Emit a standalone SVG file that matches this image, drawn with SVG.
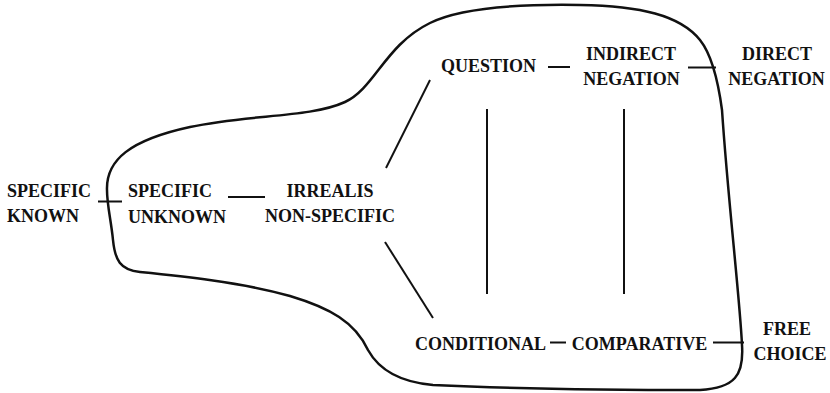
<svg xmlns="http://www.w3.org/2000/svg" width="830" height="393" viewBox="0 0 830 393">
<style>
  .lbl { font-family: "Liberation Serif", "Times New Roman", serif; font-weight: bold; font-size: 18px; fill: #111; }
  .mid { text-anchor: middle; }
  .edge { stroke: #111; stroke-width: 2; fill: none; stroke-linecap: butt; }
  .blob { stroke: #111; stroke-width: 2.5; fill: none; }
</style>
<rect width="830" height="393" fill="#fff"/>
<path id="boundary" class="blob" d="M 107,190 C 106,160 130,140 190,127 C 250,114 310,118 345,102 C 375,88 385,45 430,23 C 460,8 520,4 580,5 C 640,6 680,15 700,40 C 712,55 718,80 722,110 C 728,200 740,300 742,345 C 744,375 735,388 700,390 C 620,390 500,388 433,385 C 398,382 378,368 368,350 C 355,322 330,308 290,296 C 240,282 180,276 140,272 C 120,270 115,260 113,240 C 111,220 107,205 107,190 Z"/>
<g id="connectors">
  <line class="edge" x1="98" y1="201.5" x2="122" y2="201.5"/>
  <line class="edge" x1="228" y1="197" x2="265" y2="197"/>
  <line class="edge" x1="386" y1="168" x2="430" y2="80"/>
  <line class="edge" x1="385" y1="242" x2="433" y2="318"/>
  <line class="edge" x1="548" y1="67" x2="570" y2="67"/>
  <line class="edge" x1="688" y1="67.5" x2="716" y2="67.5"/>
  <line class="edge" x1="487" y1="109" x2="487" y2="294"/>
  <line class="edge" x1="624" y1="109" x2="624" y2="294"/>
  <line class="edge" x1="550" y1="342.5" x2="566" y2="342.5"/>
  <line class="edge" x1="713" y1="342.5" x2="744" y2="342.5"/>
</g>
<g id="specific-known"><text class="lbl" x="7" y="197">SPECIFIC</text><text class="lbl" x="7" y="222">KNOWN</text></g>
<g id="specific-unknown"><text class="lbl" x="128" y="197">SPECIFIC</text><text class="lbl" x="128" y="223">UNKNOWN</text></g>
<g id="irrealis"><text class="lbl mid" x="330" y="197">IRREALIS</text><text class="lbl mid" x="330" y="222">NON-SPECIFIC</text></g>
<g id="question"><text class="lbl mid" x="488.5" y="72">QUESTION</text></g>
<g id="indirect-negation"><text class="lbl mid" x="631" y="60">INDIRECT</text><text class="lbl mid" x="631.5" y="85">NEGATION</text></g>
<g id="direct-negation"><text class="lbl mid" x="777" y="60">DIRECT</text><text class="lbl mid" x="776.5" y="85">NEGATION</text></g>
<g id="conditional"><text class="lbl mid" x="480.5" y="350">CONDITIONAL</text></g>
<g id="comparative"><text class="lbl mid" x="639.5" y="350">COMPARATIVE</text></g>
<g id="free-choice"><text class="lbl mid" x="787" y="335">FREE</text><text class="lbl mid" x="790" y="360">CHOICE</text></g>
</svg>
